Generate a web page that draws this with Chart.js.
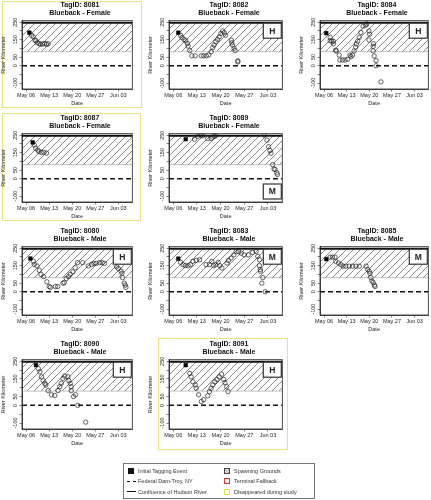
<!DOCTYPE html>
<html><head><meta charset="utf-8">
<script src="https://cdn.jsdelivr.net/npm/chart.js@4.4.1/dist/chart.umd.min.js"></script>
<style>
html,body{margin:0;padding:0;background:#fff;}
body{width:431px;height:500px;overflow:hidden;position:relative;font-family:"Liberation Sans",Arial,sans-serif;-webkit-font-smoothing:antialiased;}
canvas{position:absolute;}
.ttl{position:absolute;font-weight:bold;font-size:7px;line-height:7px;color:#111;white-space:nowrap;text-align:center;width:120px;will-change:transform;}
.ybox{position:absolute;border:1.5px solid #ebe27f;box-sizing:border-box;}
.legend{position:absolute;left:123px;top:463px;width:192px;height:36px;border:1px solid #777;box-sizing:border-box;font-size:5.5px;color:#333;will-change:transform;}
.li{position:absolute;white-space:nowrap;line-height:6px;}
.ic{position:absolute;box-sizing:border-box;}
</style></head>
<body>
<div class="legend">
  <div class="ic" style="left:4px;top:4px;width:6px;height:6px;background:#111;"></div>
  <div class="li" style="left:14px;top:4px;">Initial Tagging Event</div>
  <div class="ic" style="left:3px;top:17px;width:9px;height:0;border-top:1.5px dashed #111;"></div>
  <div class="li" style="left:14px;top:14px;">Federal Dam-Troy, NY</div>
  <div class="ic" style="left:3px;top:27px;width:9px;height:0;border-top:1.5px solid #111;"></div>
  <div class="li" style="left:14px;top:25px;">Confluence of Hudson River</div>
  <div class="ic" style="left:100px;top:4px;width:6px;height:6px;border:1px solid #444;background:repeating-linear-gradient(45deg,#bbb 0 1px,#fff 1px 2px);"></div>
  <div class="li" style="left:110px;top:4px;">Spawning Grounds</div>
  <div class="ic" style="left:100px;top:14px;width:6px;height:6px;border:1px solid #e03030;"></div>
  <div class="li" style="left:110px;top:14px;">Terminal Fallback</div>
  <div class="ic" style="left:100px;top:25px;width:6px;height:6px;border:1px solid #e6dc50;"></div>
  <div class="li" style="left:110px;top:25px;">Disappeared during study</div>
</div>
<script>
// ---- data (days after May 06, river kilometre); first point = initial tagging event
const tagIds   = ['8081','8082','8084','8087','8089','8080','8083','8085','8090','8091'];
const sexes    = ['Female','Female','Female','Female','Female','Male','Male','Male','Male','Male'];
const outcomes = ['','H','H','','M','H','M','M','H','H'];
const outcomePos = ['top','top','top','top','bottom','top','top','top','top','top'];
const disappeared = [true,false,false,true,false,false,false,false,false,true];

const days8081 = [1.0,1.7,2.2,2.7,3.0,3.4,4.0,4.4,5.0,5.7,6.2,6.7];
const km8081   = [190,175,166,147,143,132,128,123,125,128,123,126];
const days8082 = [1.5,2.2,2.6,3.2,3.7,4.2,4.4,4.9,5.5,6.5,8.3,9.0,9.8,10.5,11.2,11.7,12.1,12.6,13.1,13.6,14.1,14.6,15.1,15.5,17.2,17.3,17.5,18.0,18.3,19.1,19.1];
const km8082   = [190,175,162,151,143,128,113,87,57,57,57,57,57,62,81,104,119,138,151,166,185,200,190,175,147,132,119,100,87,28,22];
const days8084 = [0.7,1.9,1.9,2.4,2.9,2.9,3.6,3.8,4.7,4.9,5.7,6.5,7.3,8.0,8.3,8.8,9.3,9.8,10.0,10.4,10.9,11.4,12.1,12.9,13.2,13.9,14.1,13.9,15.2,15.3,15.2,15.5,16.1,16.1,17.6];
const km8084   = [187,163,144,141,141,126,89,85,61,33,33,33,37,61,52,61,85,107,126,141,163,191,228,233,241,200,181,148,111,126,85,56,30,0,-93];
const days8087 = [2.0,2.5,2.9,3.6,3.9,4.6,5.4,6.2];
const km8087   = [209,194,175,165,156,152,152,147];
const days8089 = [3.7,6.3,7.3,8.3,8.7,10.2,11.2,11.7,12.3,12.6,26.9,27.7,28.2,28.6,28.9,29.4,29.8,30.1,30.6,30.8];
const km8089   = [227,227,244,250,246,231,231,240,244,250,250,222,184,162,147,81,56,53,34,24];
const days8080 = [1.3,2.2,2.5,3.3,4.0,4.5,5.3,6.3,7.0,7.4,8.9,9.6,11.2,11.6,12.2,12.9,13.4,14.2,14.9,15.6,17.2,18.9,19.9,20.6,21.3,22.3,23.1,23.8,27.5,28.0,28.8,29.1,29.3,29.8,30.1,30.3];
const km8080   = [191,176,157,148,123,100,87,57,30,25,30,30,49,53,76,87,100,114,138,167,167,148,157,163,163,167,167,163,144,133,119,106,81,49,38,25];
const days8083 = [1.5,2.2,2.9,3.6,4.4,5.1,5.8,6.8,7.8,9.7,10.7,11.4,12.0,12.6,13.3,13.8,14.4,15.9,16.3,17.1,17.9,18.6,19.3,20.1,21.0,22.2,23.5,24.5,25.0,25.5,25.5,25.7,25.8,26.5,26.2,27.2];
const km8083   = [190,169,156,150,150,156,175,180,184,156,156,175,150,156,169,150,137,165,180,194,212,231,231,222,212,212,226,231,203,184,150,128,118,81,49,0];
const days8085 = [0.7,1.9,2.6,3.4,3.6,4.5,5.2,5.9,6.7,7.8,8.8,9.9,10.9,13.0,13.5,14.0,14.2,14.5,14.8,15.2,15.6,15.8];
const km8085   = [188,199,199,199,175,165,156,147,147,147,147,147,147,147,128,118,105,81,62,53,38,30];
const days8090 = [3.0,3.7,4.2,4.7,5.2,5.7,6.0,6.7,7.7,8.7,9.7,10.2,10.7,11.2,11.7,12.7,13.0,13.4,13.7,13.7,14.4,15.0,15.7,18.1];
const km8090   = [228,209,190,162,140,125,116,84,60,56,84,106,125,153,166,162,140,125,106,84,50,60,0,-95];
const days8091 = [3.7,4.9,5.3,5.8,6.5,6.8,7.5,8.3,9.0,10.2,10.7,11.2,11.7,12.3,12.9,13.6,14.3,14.9,15.3,15.8,16.2];
const km8091   = [228,181,162,134,116,97,60,22,32,54,78,97,116,134,147,162,177,147,129,106,78];

const seriesDays = [days8081,days8082,days8084,days8087,days8089,days8080,days8083,days8085,days8090,days8091];
const seriesKm   = [km8081,km8082,km8084,km8087,km8089,km8080,km8083,km8085,km8090,km8091];

const xTickDays   = [0,7,14,21,28];
const xTickLabels = ['May 06','May 13','May 20','May 27','Jun 03'];
const yTickVals   = [-100,-50,0,50,100,150,200,250];
const yTickShown  = [-100,0,50,150,250];
const spawnBottom = 81, confluenceKm = 247, damKm = 0;

// ---- layout
const colX = [[22,134],[169,284],[320,430]];
const rowY = [[20,89],[133,202],[246,315],[359,429]];
const cells = [[0,0],[1,0],[2,0],[0,1],[1,1],[0,2],[1,2],[2,2],[0,3],[1,3]];
const yellowBoxes = {0:[2,1,140,107],3:[2,113,139,108],9:[158,338,130,112]};
const xMin=-1.24, xMax=32.24, yMin=-134, yMax=259;
const FONT = '"Liberation Sans", Arial, sans-serif';

function hatch(){
  const c=document.createElement('canvas'); const s=7; c.width=s; c.height=s;
  const g=c.getContext('2d'); g.strokeStyle='#555'; g.lineWidth=0.7;
  g.beginPath(); g.moveTo(0,s); g.lineTo(s,0); g.moveTo(-1,1); g.lineTo(1,-1); g.moveTo(s-1,s+1); g.lineTo(s+1,s-1); g.stroke();
  return g.createPattern(c,'repeat');
}

const framePlugin = {
  id:'frame',
  afterDatasetsDraw(chart, args, opts){
    const {ctx, chartArea:a} = chart;
    ctx.save();
    if (opts.text){
      const w=18,h=15, x=a.right-19, y = opts.pos==='bottom' ? a.bottom-18 : a.top+2.5;
      ctx.fillStyle='#fff'; ctx.fillRect(x,y,w,h);
      ctx.strokeStyle='#333'; ctx.lineWidth=1.2; ctx.strokeRect(x,y,w,h);
      ctx.fillStyle='#222'; ctx.font='bold 8.5px '+FONT; ctx.textAlign='center'; ctx.textBaseline='middle';
      ctx.fillText(opts.text, x+w/2, y+h/2+0.5);
    }
    ctx.strokeStyle='#222'; ctx.lineWidth=0.8;
    ctx.strokeRect(a.left, a.top, a.right-a.left, a.bottom-a.top);
    ctx.restore();
  }
};

const PADT=4, PADR=3, YW=22, XH=18;
tagIds.forEach((id,i)=>{
  const [c,r]=cells[i];
  const [pl,pr]=colX[c], [pt,pb]=rowY[r];
  const cx=Math.round((pl+pr)/2+2);
  const t1=document.createElement('div'); t1.className='ttl'; t1.style.left=(cx-60)+'px'; t1.style.top=(pt-19)+'px'; t1.textContent='TagID: '+id;
  const t2=document.createElement('div'); t2.className='ttl'; t2.style.left=(cx-60)+'px'; t2.style.top=(pt-11)+'px'; t2.textContent='Blueback - '+sexes[i];
  document.body.appendChild(t1); document.body.appendChild(t2);
  if (yellowBoxes[i]){
    const b=yellowBoxes[i]; const d=document.createElement('div'); d.className='ybox';
    d.style.left=b[0]+'px'; d.style.top=b[1]+'px'; d.style.width=b[2]+'px'; d.style.height=b[3]+'px';
    document.body.appendChild(d);
  }
  const cv=document.createElement('canvas');
  const W=(pr-pl)+YW+PADR, H=(pb-pt)+PADT+XH;
  cv.width=W; cv.height=H; cv.style.left=(pl-YW)+'px'; cv.style.top=(pt-PADT)+'px';
  cv.style.width=W+'px'; cv.style.height=H+'px';
  document.body.appendChild(cv);
  const d=seriesDays[i], k=seriesKm[i];
  const pts=d.map((x,j)=>({x, y:k[j]}));
  new Chart(cv,{
    data:{datasets:[
      {type:'line', order:6, data:[{x:xMin,y:confluenceKm},{x:xMax,y:confluenceKm}], fill:{value:spawnBottom}, backgroundColor:hatch(), borderWidth:0, pointRadius:0},
      {type:'line', order:5, data:[{x:xMin,y:spawnBottom},{x:xMax,y:spawnBottom}], borderColor:'#999', borderWidth:0.6, pointRadius:0, fill:false},
      {type:'line', order:4, data:[{x:xMin,y:confluenceKm},{x:xMax,y:confluenceKm}], borderColor:'#111', borderWidth:2, pointRadius:0, fill:false},
      {type:'line', order:3, data:[{x:xMin,y:damKm},{x:xMax,y:damKm}], borderColor:'#111', borderWidth:1.5, borderDash:[5,3], pointRadius:0, fill:false},
      {type:'scatter', order:1, data:pts.slice(1), pointStyle:'circle', pointRadius:2.2, borderWidth:0.7, borderColor:'#222', backgroundColor:'rgba(0,0,0,0)'},
      {type:'scatter', order:0, data:pts.slice(0,1), pointStyle:'rect', pointRadius:2.6, borderWidth:0.5, borderColor:'#000', backgroundColor:'#000'}
    ]},
    options:{
      responsive:false, animation:false, devicePixelRatio:1, events:[],
      layout:{padding:{top:PADT,right:PADR,left:0,bottom:0}},
      plugins:{legend:{display:false}, tooltip:{enabled:false}, frame:{text:outcomes[i], pos:outcomePos[i]}},
      scales:{
        x:{type:'linear', min:xMin, max:xMax,
          afterBuildTicks:s=>{s.ticks=xTickDays.map(v=>({value:v}));},
          afterFit:s=>{s.height=XH;},
          ticks:{autoSkip:false, maxRotation:0, minRotation:0, padding:0.5, color:'#222', font:{size:5.5,family:FONT},
            callback:v=>{const j=xTickDays.indexOf(v); return j>=0?xTickLabels[j]:'';}},
          grid:{display:true, drawOnChartArea:false, drawTicks:true, tickLength:2.5, color:'#333', lineWidth:0.6},
          border:{display:true, color:'#222', width:0.8},
          title:{display:true, text:'Date', color:'#222', font:{size:5.5,family:FONT}, padding:{top:0,bottom:0}}
        },
        y:{type:'linear', min:yMin, max:yMax,
          afterBuildTicks:s=>{s.ticks=yTickVals.map(v=>({value:v}));},
          afterFit:s=>{s.width=YW;},
          ticks:{autoSkip:false, minRotation:90, maxRotation:90, crossAlign:'center', padding:-1.5, color:'#222', font:{size:5.5,family:FONT},
            callback:v=> yTickShown.includes(v)? String(v):''},
          grid:{display:true, drawOnChartArea:false, drawTicks:true, tickLength:2.5, color:'#333', lineWidth:0.6},
          border:{display:true, color:'#222', width:0.8},
          title:{display:true, text:'River Kilometer', color:'#222', font:{size:5.5,family:FONT}, padding:{top:0,bottom:0}}
        }
      }
    },
    plugins:[framePlugin]
  });
});
</script>
</body></html>
